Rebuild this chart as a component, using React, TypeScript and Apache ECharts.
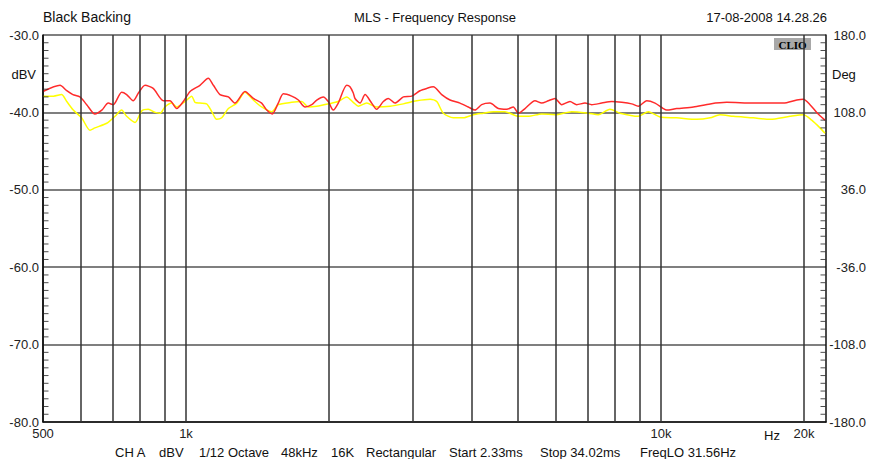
import React, { useEffect, useRef } from "react";
import * as echarts from "echarts";

// Frequencies (Hz) and levels (dBV)
const redFreq = [500, 543, 561, 578, 598, 618, 643, 665, 686, 703, 732, 750, 774, 794, 820, 853, 896, 925, 956, 987, 1020, 1070, 1114, 1142, 1179, 1228, 1268, 1331, 1386, 1443, 1479, 1519, 1564, 1603, 1669, 1724, 1781, 1840, 1885, 1946, 1993, 2042, 2092, 2179, 2214, 2250, 2269, 2325, 2382, 2460, 2520, 2603, 2667, 2754, 2868, 2987, 3109, 3212, 3316, 3454, 3596, 3774, 3929, 4058, 4192, 4365, 4545, 4734, 4888, 5008, 5173, 5429, 5608, 5790, 5981, 6178, 6432, 6645, 6918, 7146, 7502, 7874, 8266, 8675, 8958, 9330, 9714, 10110, 10280, 10790, 11700, 12690, 13750, 15640, 18090, 19310, 19940, 20590, 21270, 22140];
const redDb = [-37.3, -36.5, -37.2, -37.7, -38.0, -39.0, -40.2, -39.7, -38.8, -39.0, -37.4, -37.7, -38.5, -37.5, -36.5, -36.9, -38.5, -38.5, -39.5, -38.6, -37.3, -36.5, -35.6, -36.5, -37.7, -38.0, -38.8, -37.3, -38.2, -38.8, -39.7, -40.2, -38.8, -37.6, -37.9, -38.4, -39.3, -39.0, -38.4, -38.0, -38.6, -39.7, -38.8, -36.5, -36.7, -37.5, -38.2, -38.8, -37.7, -38.8, -39.6, -38.6, -38.2, -38.8, -38.0, -37.9, -37.2, -36.9, -36.7, -37.7, -38.4, -38.8, -39.3, -39.7, -39.0, -38.8, -39.5, -39.6, -39.3, -40.1, -39.5, -38.5, -38.8, -38.5, -38.2, -39.0, -38.6, -39.0, -38.8, -39.0, -38.8, -38.6, -38.7, -38.9, -39.2, -38.5, -38.8, -39.5, -39.7, -39.5, -39.3, -38.9, -38.7, -38.8, -38.8, -38.4, -38.3, -39.0, -40.0, -41.0];

const yellowFreq = [500, 526, 547, 561, 579, 603, 628, 643, 681, 709, 732, 750, 781, 807, 833, 861, 882, 903, 933, 956, 995, 1028, 1045, 1070, 1105, 1133, 1160, 1189, 1228, 1279, 1331, 1386, 1443, 1515, 1564, 1669, 1752, 1809, 1885, 1993, 2092, 2179, 2250, 2305, 2401, 2520, 2689, 2868, 3060, 3265, 3372, 3481, 3654, 3835, 4025, 4226, 4436, 4694, 5008, 5256, 5608, 5981, 6486, 7030, 7379, 7809, 8197, 8958, 9404, 9952, 10790, 11890, 12690, 13310, 14200, 15640, 16960, 18690, 19940, 20760, 21610, 22140];
const yellowDb = [-37.9, -37.9, -37.7, -38.6, -39.7, -40.7, -42.3, -42.0, -41.4, -40.5, -39.7, -40.5, -41.3, -39.8, -39.6, -40.0, -40.1, -39.3, -38.8, -39.3, -38.6, -37.9, -38.7, -38.8, -38.9, -39.9, -40.9, -40.7, -39.5, -38.8, -37.4, -38.4, -39.3, -39.9, -39.0, -38.7, -38.6, -39.3, -39.2, -38.9, -38.6, -38.0, -38.7, -39.2, -38.8, -39.3, -39.2, -38.9, -38.5, -38.3, -38.6, -40.1, -40.7, -40.7, -40.3, -40.1, -39.9, -39.9, -40.5, -40.5, -40.2, -40.3, -39.9, -40.1, -40.3, -39.6, -40.1, -40.5, -39.9, -40.6, -40.7, -40.9, -40.7, -40.3, -40.5, -40.7, -40.9, -40.5, -40.3, -41.0, -42.0, -42.7];

const gridFreqs = [600, 700, 800, 900, 1000, 2000, 3000, 4000, 5000, 6000, 7000, 8000, 9000, 10000, 20000];
const freqLabels: [number, string][] = [[500, "500"], [1000, "1k"], [10000, "10k"], [20000, "20k"]];
// 1 dB minor ticks on both side axes
const minorTickDb = [
  -31, -32, -33, -34, -35, -36, -37, -38, -39,
  -41, -42, -43, -44, -45, -46, -47, -48, -49,
  -51, -52, -53, -54, -55, -56, -57, -58, -59,
  -61, -62, -63, -64, -65, -66, -67, -68, -69,
  -71, -72, -73, -74, -75, -76, -77, -78, -79,
];
const footerParts: [number, string][] = [
  [115, "CH A"], [159, "dBV"], [199, "1/12 Octave"], [281, "48kHz"], [331, "16K"],
  [366, "Rectangular"], [449, "Start 2.33ms"], [540, "Stop 34.02ms"], [640, "FreqLO 31.56Hz"],
];

const FONT = '"Liberation Sans", Arial, sans-serif';
const X_MIN = 500;
const X_MAX = 22250;

export default function App() {
  const ref = useRef<HTMLDivElement>(null);
  useEffect(() => {
    if (!ref.current) return;
    const chart = echarts.init(ref.current, undefined, { renderer: "svg" });
    const labelMap: Record<number, string> = {};
    freqLabels.forEach(([f, s]) => (labelMap[f] = s));
    const markData: any[] = gridFreqs.map((f) => ({ xAxis: f }));
    markData.push({ xAxis: X_MIN, lineStyle: { color: "#111", width: 1.5 } });
    const axisCommon = {
      type: "value",
      min: -80,
      max: -30,
      interval: 10,
      axisLine: { show: true, lineStyle: { color: "#111", width: 1.5 } },
      axisTick: { show: false },
    };
    const tickSeries = (xv: number, offset: number) => ({
      type: "scatter",
      silent: true,
      symbol: "rect",
      symbolSize: [5, 1],
      symbolOffset: [offset, 0],
      itemStyle: { color: "#222" },
      data: minorTickDb.map((d) => [xv, d]),
      z: 5,
    });
    chart.setOption({
      animation: false,
      backgroundColor: "#fff",
      grid: { left: 43, top: 35, right: 43, bottom: 37, containLabel: false },
      xAxis: {
        type: "log",
        logBase: 10,
        min: X_MIN,
        max: X_MAX,
        axisLine: { show: true, onZero: false, lineStyle: { color: "#111", width: 1.5 } },
        axisTick: { show: false },
        axisLabel: { show: false },
        splitLine: { show: false },
        minorSplitLine: { show: false },
      },
      yAxis: [
        {
          ...axisCommon,
          position: "left",
          axisLabel: {
            formatter: (v: number) => v.toFixed(1),
            fontFamily: FONT,
            fontSize: 13,
            color: "#222",
            margin: 4,
          },
          splitLine: { show: true, lineStyle: { color: "#555", width: 1.5 } },
        },
        {
          ...axisCommon,
          position: "right",
          axisLabel: {
            formatter: (v: number) => ((v + 55) * 7.2).toFixed(1),
            fontFamily: FONT,
            fontSize: 13,
            color: "#222",
            align: "right",
            margin: 40,
          },
          splitLine: { show: false },
        },
      ],
      series: [
        {
          type: "line",
          name: "grid",
          data: [],
          silent: true,
          markLine: {
            silent: true,
            symbol: "none",
            animation: false,
            lineStyle: { color: "#333", width: 1.5, type: "solid" },
            label: {
              show: true,
              position: "start",
              distance: 5,
              fontFamily: FONT,
              fontSize: 13,
              color: "#222",
              formatter: (p: any) => labelMap[p.value] || "",
            },
            emphasis: { disabled: true },
            data: markData,
          },
          z: 1,
        },
        tickSeries(X_MIN, 3),
        tickSeries(X_MAX, -3),
        {
          type: "line",
          name: "Phase",
          data: yellowFreq.map((f, i) => [f, yellowDb[i]]),
          showSymbol: false,
          smooth: 0.25,
          lineStyle: { color: "#ffff00", width: 1.5 },
          itemStyle: { color: "#ffff00" },
          z: 3,
        },
        {
          type: "line",
          name: "Magnitude",
          data: redFreq.map((f, i) => [f, redDb[i]]),
          showSymbol: false,
          smooth: 0.25,
          lineStyle: { color: "#ff2b2b", width: 1.5 },
          itemStyle: { color: "#ff2b2b" },
          z: 4,
        },
      ],
      graphic: [
        { type: "text", left: 43, top: 10, style: { text: "Black Backing", font: `14px ${FONT}`, fill: "#111" } },
        { type: "text", x: 435, y: 17, style: { text: "MLS - Frequency Response", font: `13px ${FONT}`, fill: "#111", align: "center", verticalAlign: "middle" } },
        { type: "text", x: 827, y: 17, style: { text: "17-08-2008 14.28.26", font: `13px ${FONT}`, fill: "#111", align: "right", verticalAlign: "middle" } },
        { type: "text", x: 36, y: 74, style: { text: "dBV", font: `13px ${FONT}`, fill: "#111", align: "right", verticalAlign: "middle" } },
        { type: "text", x: 832, y: 74, style: { text: "Deg", font: `13px ${FONT}`, fill: "#111", align: "left", verticalAlign: "middle" } },
        { type: "text", x: 772, y: 435, style: { text: "Hz", font: `13px ${FONT}`, fill: "#111", align: "center", verticalAlign: "middle" } },
        {
          type: "group",
          x: 774,
          y: 38,
          children: [
            { type: "rect", shape: { x: 0, y: 0, width: 37, height: 12 }, style: { fill: "#a8a8a8" } },
            { type: "text", x: 18.5, y: 6.5, style: { text: "CLIO", font: `bold 11px "Liberation Serif", "DejaVu Serif", serif`, fill: "#000", align: "center", verticalAlign: "middle" } },
          ],
        },
        ...footerParts.map(([x, t]) => ({
          type: "text",
          x,
          y: 452,
          style: { text: t, font: `13px ${FONT}`, fill: "#111", align: "left", verticalAlign: "middle" },
        })),
      ],
    });
    return () => chart.dispose();
  }, []);
  return <div ref={ref} style={{ position: "absolute", left: 0, top: 0, width: 869, height: 459 }} />;
}
